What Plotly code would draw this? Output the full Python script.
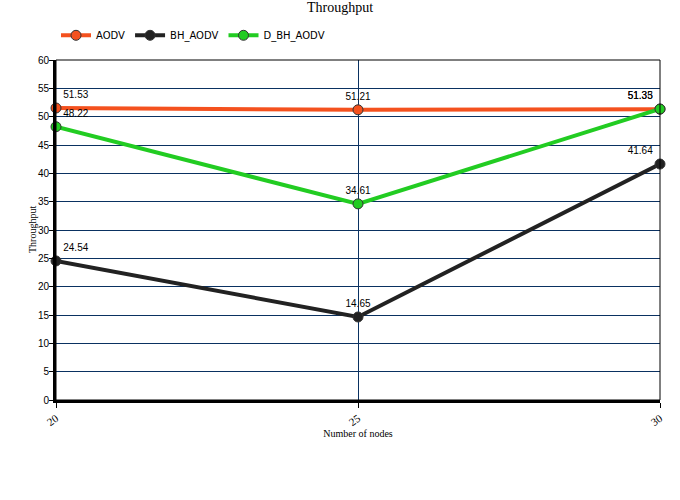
import plotly.graph_objects as go

# ------------------------------------------------------------
# Data
# ------------------------------------------------------------
nodes = [20, 25, 30]
aodv = [51.53, 51.21, 51.33]
bh_aodv = [24.54, 14.65, 41.64]
d_bh_aodv = [48.22, 34.61, 51.35]

series = [
    ("AODV", aodv, "#F4511E"),
    ("BH_AODV", bh_aodv, "#222222"),
    ("D_BH_AODV", d_bh_aodv, "#22CC22"),
]

label_pos = ["top right", "top center", "top left"]

fig = go.Figure()

for name, vals, col in series:
    fig.add_trace(go.Scatter(
        x=nodes, y=vals, name=name, mode="lines+markers+text",
        line=dict(color=col, width=4),
        marker=dict(size=10, color=col, line=dict(color="#333333", width=1)),
        text=[f"{v:.2f}" for v in vals],
        textposition=label_pos,
        textfont=dict(family="Liberation Sans", size=10, color="#000000"),
        cliponaxis=False,
    ))

# thin frame around the plot area
fig.add_shape(type="rect", xref="paper", yref="paper", x0=0, y0=0, x1=1, y1=1,
              line=dict(color="black", width=1), layer="above")

# y axis title as a rotated annotation (closer to the ticks than standoff allows)
fig.add_annotation(text="Throughput", xref="paper", yref="paper", x=0, y=0.5,
                   xanchor="center", yanchor="middle", xshift=-24, textangle=-90,
                   showarrow=False,
                   font=dict(family="Liberation Serif", size=10, color="#000000"))

fig.update_layout(
    title=dict(text="Throughput", x=0.5, xanchor="center", y=0.995, yanchor="top",
               font=dict(family="Liberation Serif", size=14, color="#000000")),
    width=680, height=500,
    margin=dict(l=56, r=20, t=60, b=100, autoexpand=False),
    plot_bgcolor="white", paper_bgcolor="white",
    showlegend=True,
    legend=dict(orientation="h", x=0.0, xanchor="left", y=1.03, yanchor="bottom",
                font=dict(family="DejaVu Sans", size=10, color="#000000"),
                traceorder="normal"),
    xaxis=dict(
        range=[20, 30], tickvals=nodes, ticktext=[str(n) for n in nodes],
        tickangle=-35, ticks="outside", ticklen=5, tickcolor="black",
        showgrid=True, gridcolor="#0A3161", gridwidth=1,
        showline=True, linecolor="black", linewidth=3, zeroline=False,
        automargin=False,
        tickfont=dict(family="Liberation Serif", size=11, color="#000000"),
        title=dict(text="Number of nodes", standoff=0,
                   font=dict(family="Liberation Serif", size=10, color="#000000")),
    ),
    yaxis=dict(
        range=[0, 60], dtick=5, ticks="outside", ticklen=4, tickcolor="black",
        ticklabelstandoff=-2,
        showgrid=True, gridcolor="#0A3161", gridwidth=1,
        showline=True, linecolor="black", linewidth=3, zeroline=False,
        automargin=False,
        tickfont=dict(family="Liberation Sans", size=10, color="#000000"),
    ),
)

# page body has an 8px default margin; drop it so the figure sits at 0,0
fig.write_html("out.html", config={"displayModeBar": False},
               post_script="document.body.style.margin='0';")
